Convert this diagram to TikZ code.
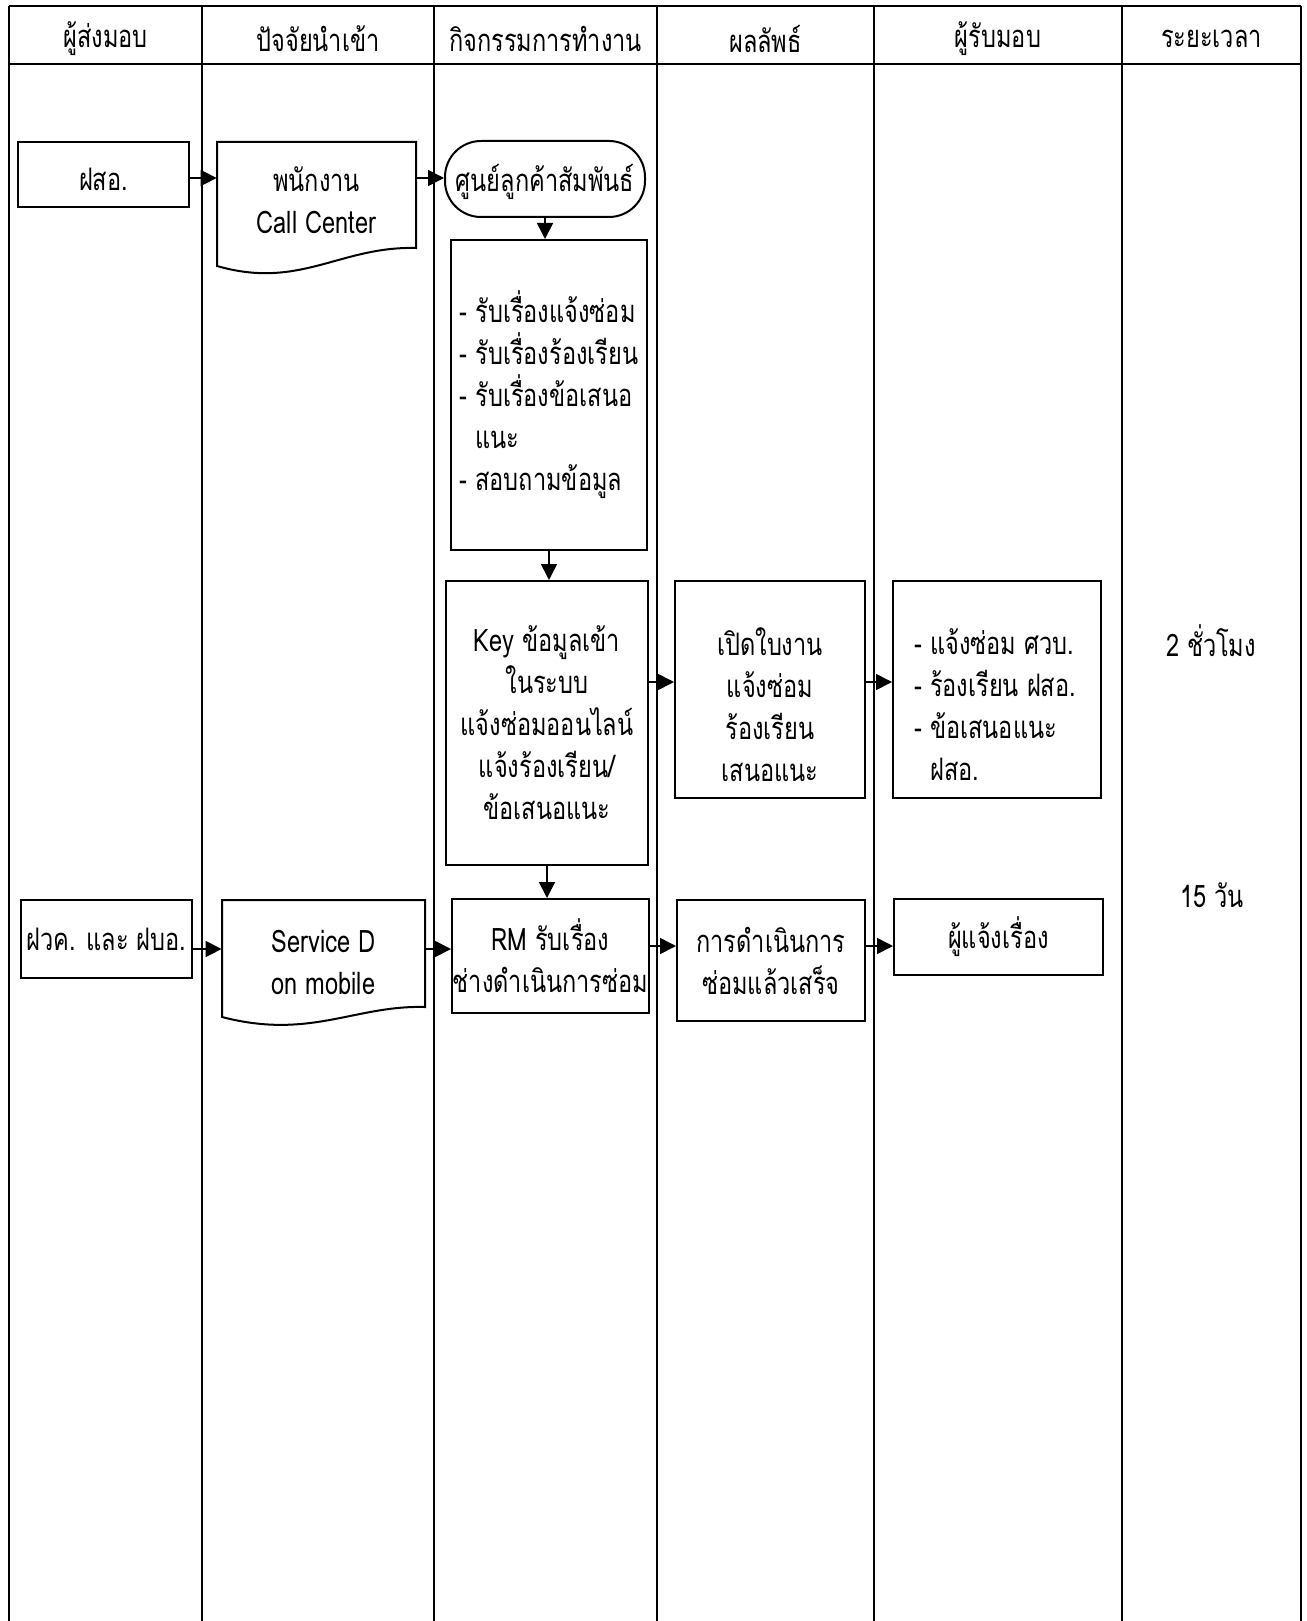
\documentclass[tikz,border=0pt]{standalone}
\usepackage{fontspec}
\setmainfont[Script=Thai,FakeStretch=0.76]{Loma}
\usetikzlibrary{arrows.meta}
\begin{document}
\begin{tikzpicture}[x=0.5pt,y=-0.5pt,
  every node/.style={font=\fontsize{15.5}{21}\selectfont},
  box/.style={draw, line width=1pt, rectangle, inner sep=0pt},
  plain/.style={inner sep=0pt},
  grid/.style={line width=0.8pt},
  docshape/.style={line width=1pt},
  arr/.style={line width=0.8pt, -{Triangle[length=8pt,width=8pt]}},
]
\useasboundingbox (0,0) rectangle (1306,1621);
% grid
\draw[grid] (9,6) -- (1301,6);
\draw[grid] (9,64) -- (1301,64);
\foreach \gx in {9,202,434,657,874,1122,1301}{\draw[grid] (\gx,6) -- (\gx,1621);}
% headers
\node[plain] (h1) at (105.5,39) {ผู้ส่งมอบ};
\node[plain] (h2) at (318,39) {ปัจจัยนำเข้า};
\node[plain] (h3) at (545.5,39) {กิจกรรมการทำงาน};
\node[plain] (h4) at (765.5,39) {ผลลัพธ์};
\node[plain] (h5) at (998,39) {ผู้รับมอบ};
\node[plain] (h6) at (1211.5,39) {ระยะเวลา};
% row 1
\node[box, minimum width=85.5pt, minimum height=32.5pt] (fso) at (103.5,174.5) {\raisebox{-2.6pt}[\height][\depth]{ฝสอ.}};
\draw[docshape] (217,142) -- (416,142) -- (416,248) .. controls (340,246) and (300,290) .. (217,266) -- cycle;
\node[plain, minimum width=99.5pt, minimum height=58.5pt, align=center] (cc) at (316.5,200.5) {พนักงาน\\Call Center};
\node[box, rounded corners=18pt, minimum width=100pt, minimum height=38pt] (crc) at (545,179) {\raisebox{-1.6pt}[\height][\depth]{ศูนย์ลูกค้าสัมพันธ์}};
\node[box, minimum width=98pt, minimum height=155pt, align=left] (lst) at (549,395) {- รับเรื่องแจ้งซ่อม\\- รับเรื่องร้องเรียน\\- รับเรื่องข้อเสนอ\\\phantom{- }แนะ\\- สอบถามข้อมูล};
\node[box, minimum width=101pt, minimum height=142pt, align=center] (key) at (547,723) {Key ข้อมูลเข้า\\ในระบบ\\แจ้งซ่อมออนไลน์\\แจ้งร้องเรียน/\\ข้อเสนอแนะ};
\node[box, minimum width=95pt, minimum height=108.5pt] (opn) at (770,689.5) {};
\node[plain, align=center] (opnT) at (770,705) {เปิดใบงาน\\แจ้งซ่อม\\ร้องเรียน\\เสนอแนะ};
\node[box, minimum width=104pt, minimum height=108.5pt] (ntf) at (997,689.5) {};
\node[plain, align=left, anchor=west] (ntfT) at (914,705) {- แจ้งซ่อม ศวบ.\\- ร้องเรียน ฝสอ.\\- ข้อเสนอแนะ\\\phantom{- }ฝสอ.};
\node[plain] (t1) at (1211,641) {2 ชั่วโมง};
\node[plain] (t2) at (1212,895) {15 วัน};
% row 2
\node[box, minimum width=85.5pt, minimum height=39pt] (fwk) at (106.5,939) {ฝวค. และ ฝบอ.};
\draw[docshape] (222,900) -- (425,900) -- (425,1007) .. controls (355,1005) and (310,1040) .. (222,1017) -- cycle;
\node[plain, minimum width=101.5pt, minimum height=62pt, align=center] (sd) at (323.5,962) {Service D\\on mobile};
\node[box, minimum width=98.5pt, minimum height=57pt, align=center] (rm) at (550.5,956) {RM รับเรื่อง\\ช่างดำเนินการซ่อม};
\node[box, minimum width=94pt, minimum height=60.5pt, align=center] (prc) at (771,960.5) {การดำเนินการ\\ซ่อมแล้วเสร็จ};
\node[box, minimum width=104.5pt, minimum height=38pt] (inf) at (998.5,937) {ผู้แจ้งเรื่อง};
% arrows
\coordinate (r1) at (0,178);
\coordinate (r2) at (0,682);
\coordinate (r3) at (0,949);
\coordinate (r4) at (0,946);
\draw[arr] (fso.east |- r1) -- (cc.west |- r1);
\draw[arr] (cc.east |- r1) -- (crc.west |- r1);
\draw[arr] (crc.south) -- (crc.south |- lst.north);
\draw[arr] (lst.south) -- (lst.south |- key.north);
\draw[arr] (key.south) -- (key.south |- rm.north);
\draw[arr] (key.east |- r2) -- (opn.west |- r2);
\draw[arr] (opn.east |- r2) -- (ntf.west |- r2);
\draw[arr] (fwk.east |- r3) -- (sd.west |- r3);
\draw[arr] (sd.east |- r3) -- (rm.west |- r3);
\draw[arr] (rm.east |- r4) -- (prc.west |- r4);
\draw[arr] (prc.east |- r4) -- (inf.west |- r4);
\end{tikzpicture}
\end{document}
